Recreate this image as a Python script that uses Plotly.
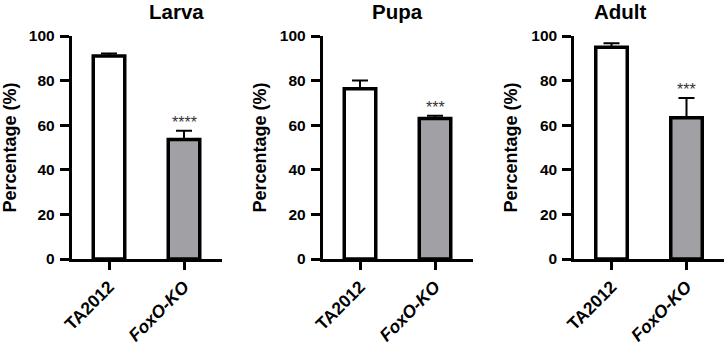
import plotly.graph_objects as go

# ---- data ----
stages = ["Larva", "Pupa", "Adult"]
groups = ["TA2012", "FoxO-KO"]
group_ticktext = ["TA2012", "<i>FoxO-KO</i>"]
larva_means = [91.0, 53.6]
larva_err = [1.2, 3.9]
pupa_means = [76.4, 63.0]
pupa_err = [3.6, 1.2]
adult_means = [94.9, 63.3]
adult_err = [1.9, 8.9]
significance = ["****", "***", "***"]
y_ticks = [0, 20, 40, 60, 80, 100]

means = [larva_means, pupa_means, adult_means]
errs = [larva_err, pupa_err, adult_err]

W, H = 726, 344
FONT = "Liberation Sans, Arial, sans-serif"
bar_colors = ["#ffffff", "#a1a1a5"]
# panel x-extents in pixels (y-axis position, right end)
panels_px = [(71.5, 221.5), (322.5, 472.5), (574.0, 724.0)]

fig = go.Figure()
for i, stage in enumerate(stages):
    ax = "" if i == 0 else str(i + 1)
    fig.add_trace(go.Bar(
        x=groups, y=means[i],
        xaxis="x" + ax, yaxis="y" + ax,
        width=0.42,
        marker=dict(color=bar_colors, line=dict(color="black", width=3.5)),
        error_y=dict(type="data", symmetric=False, array=errs[i],
                     arrayminus=[0, 0], color="black", thickness=2, width=8),
        showlegend=False,
    ))
    x0, x1 = panels_px[i]
    common_axis = dict(showline=True, linecolor="black", linewidth=2.5,
                       ticks="outside", ticklen=9, tickwidth=2.5, tickcolor="black",
                       showgrid=False, zeroline=False, automargin=False)
    fig.layout["xaxis" + ax] = dict(
        common_axis, domain=[x0 / W, x1 / W], anchor="y" + ax,
        type="category", range=[-0.5, 1.5],
        tickvals=groups, ticktext=group_ticktext, tickangle=-45, ticklen=8,
        tickfont=dict(family=FONT, size=17.5, color="black", weight="bold"),
    )
    fig.layout["yaxis" + ax] = dict(
        common_axis, domain=[0, 1], anchor="x" + ax, range=[0, 100],
        tickvals=y_ticks, ticklabelstandoff=2,
        tickfont=dict(family=FONT, size=15.5, color="black", weight="bold"),
        title=dict(text="Percentage (%)", standoff=9,
                   font=dict(family=FONT, size=18, color="black", weight="bold")),
    )
    # panel title
    fig.add_annotation(
        x=(x0 + x1) / 2 / W, xref="paper", y=1.112, yref="paper",
        text="<b>%s</b>" % stage, showarrow=False, yanchor="middle",
        font=dict(family=FONT, size=20.5, color="black"),
    )
    # significance stars above the KO error bar
    fig.add_annotation(
        x=groups[1], xref="x" + ax,
        y=means[i][1] + errs[i][1], yref="y" + ax,
        text=significance[i], showarrow=False, yanchor="bottom", yshift=-2,
        font=dict(family=FONT, size=16, color="#333333"),
    )

fig.update_layout(
    width=W, height=H,
    margin=dict(l=0, r=0, t=36, b=85, autoexpand=False),
    paper_bgcolor="white", plot_bgcolor="white",
    bargap=0.5,
)
fig.write_html("out.html", config={"displayModeBar": False},
               post_script="document.body.style.margin='0';document.body.style.padding='0';")
